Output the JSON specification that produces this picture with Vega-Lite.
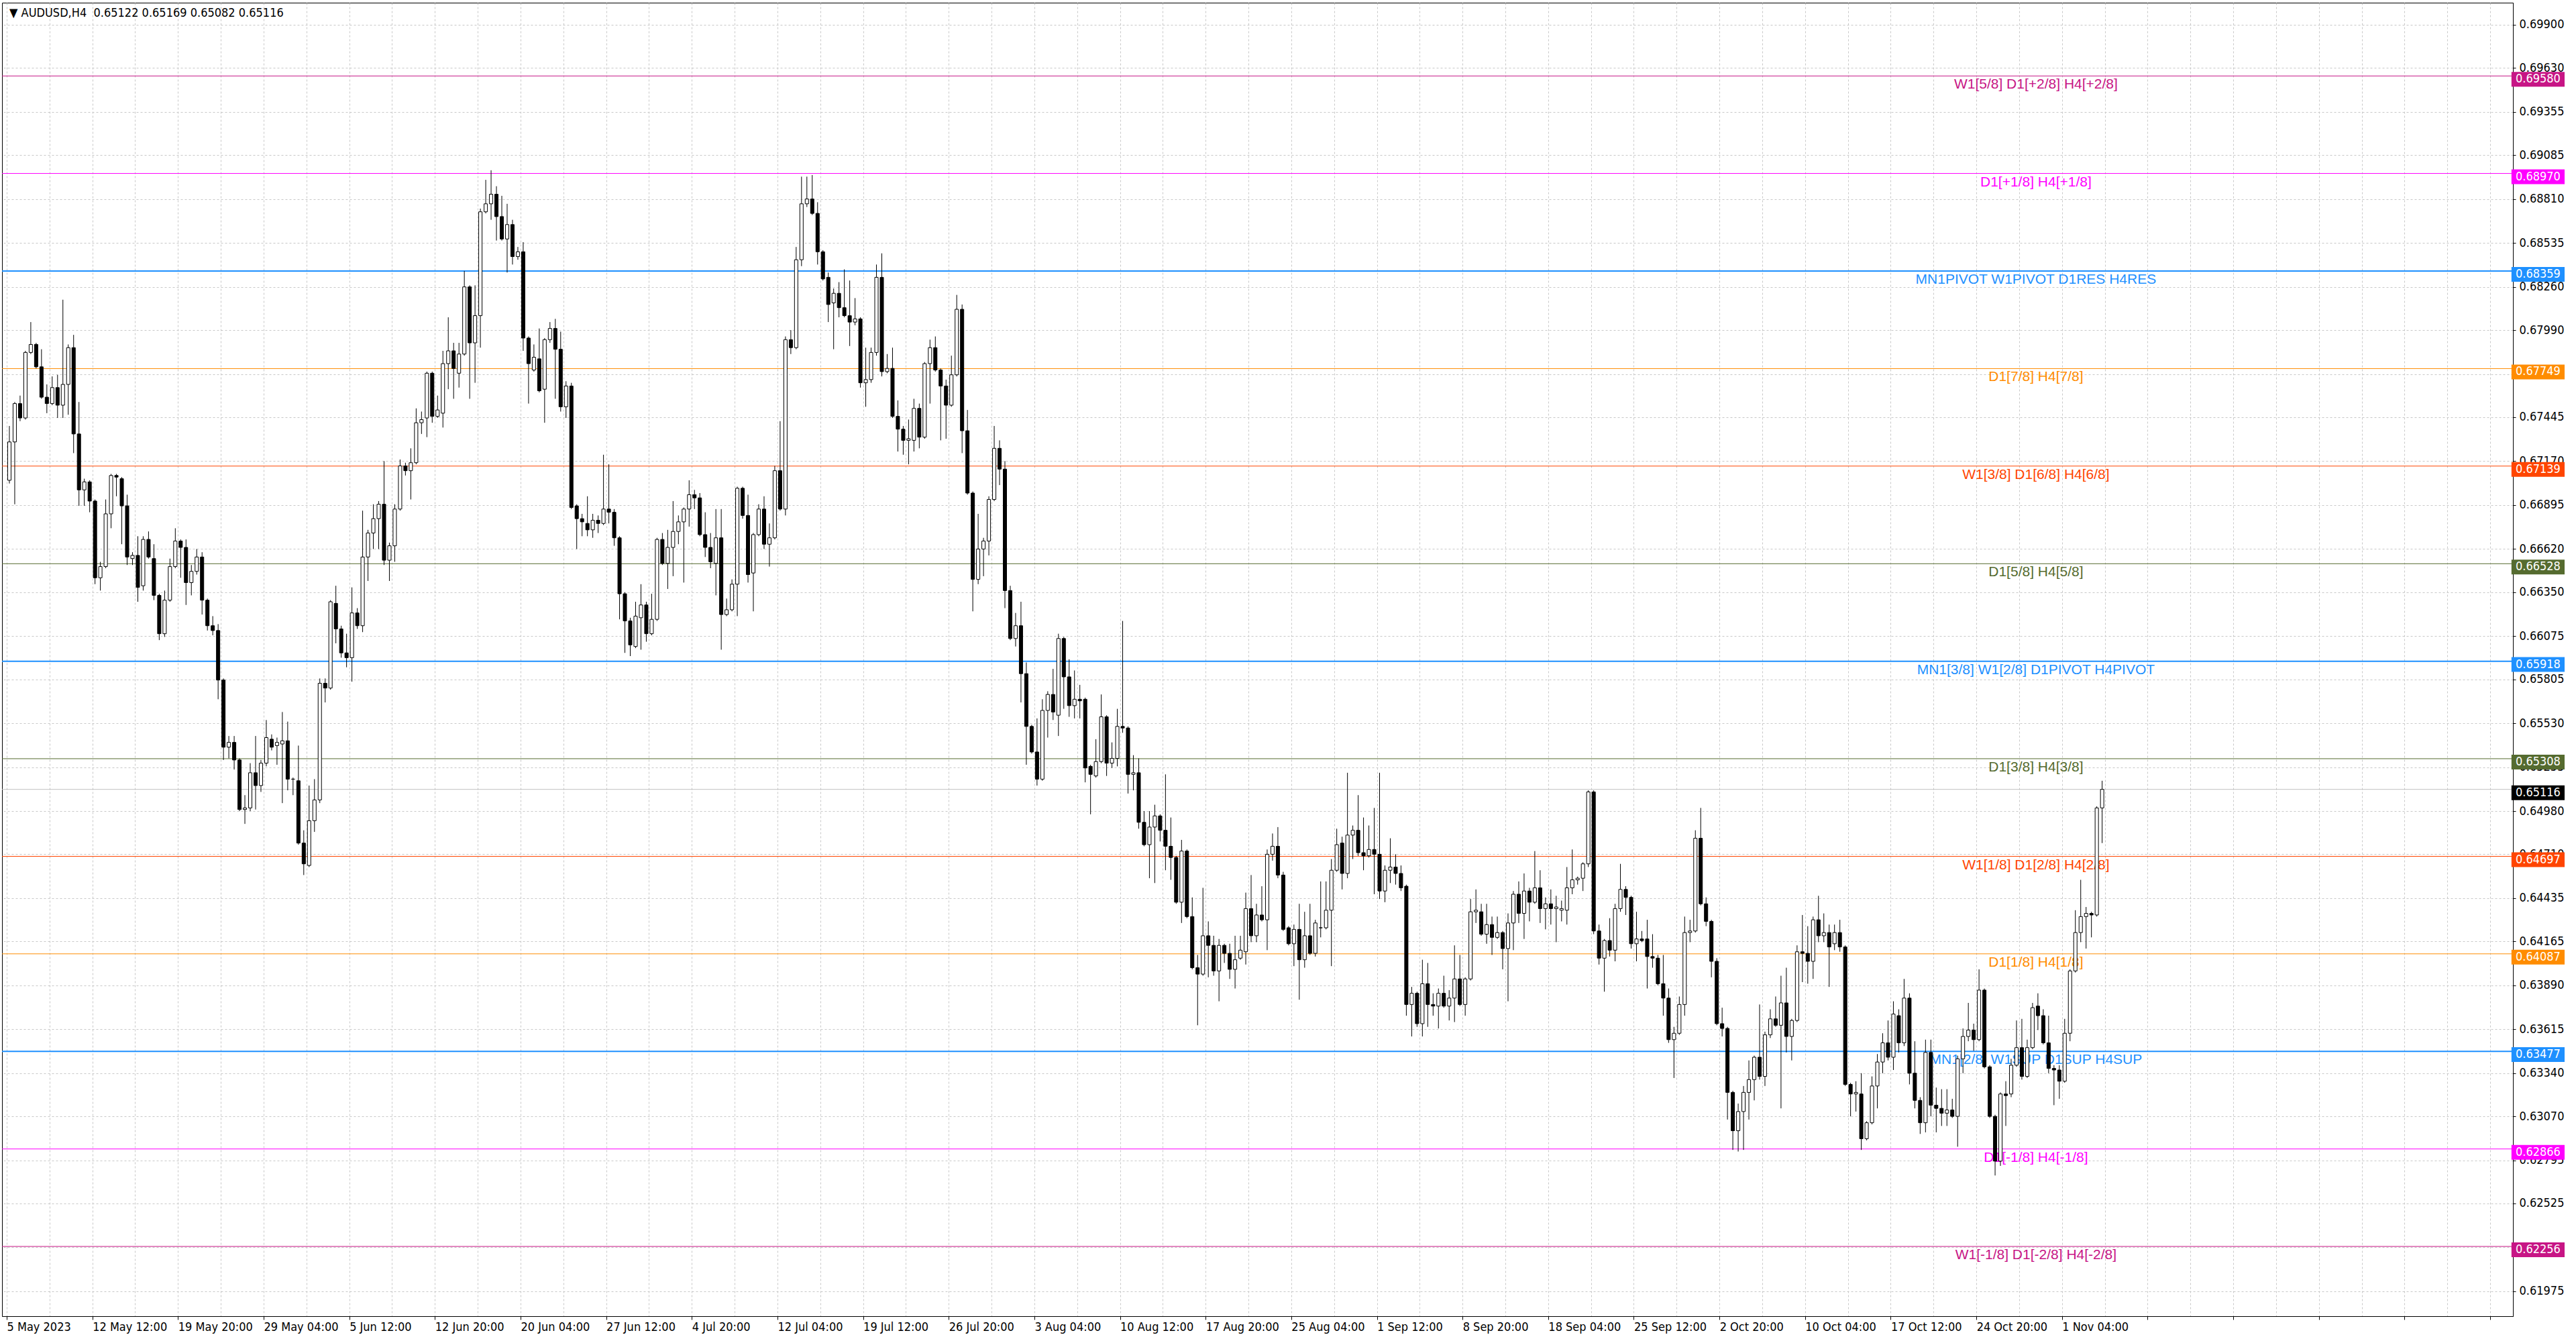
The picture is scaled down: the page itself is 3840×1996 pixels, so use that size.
{
  "$schema": "https://vega.github.io/schema/vega-lite/v6.json",
  "width": 3743,
  "height": 1958,
  "autosize": {"type": "none"},
  "padding": {"left": 3, "top": 4, "right": 94, "bottom": 34},
  "background": "white",
  "datasets": {
    "levels": [
      {"p": 0.6958, "label": "W1[5/8] D1[+2/8] H4[+2/8]"},
      {"p": 0.6897, "label": "D1[+1/8] H4[+1/8]"},
      {"p": 0.68359, "label": "MN1PIVOT W1PIVOT D1RES H4RES"},
      {"p": 0.67749, "label": "D1[7/8] H4[7/8]"},
      {"p": 0.67139, "label": "W1[3/8] D1[6/8] H4[6/8]"},
      {"p": 0.66528, "label": "D1[5/8] H4[5/8]"},
      {"p": 0.65918, "label": "MN1[3/8] W1[2/8] D1PIVOT H4PIVOT"},
      {"p": 0.65308, "label": "D1[3/8] H4[3/8]"},
      {"p": 0.64697, "label": "W1[1/8] D1[2/8] H4[2/8]"},
      {"p": 0.64087, "label": "D1[1/8] H4[1/8]"},
      {"p": 0.63477, "label": "MN1[2/8] W1SUP D1SUP H4SUP"},
      {"p": 0.62866, "label": "D1[-1/8] H4[-1/8]"},
      {"p": 0.62256, "label": "W1[-1/8] D1[-2/8] H4[-2/8]"}
    ],
    "bars": [
      {"i":0,"o":0.6705,"h":0.6739,"l":0.6703,"c":0.6729},
      {"i":1,"o":0.6729,"h":0.6754,"l":0.6690,"c":0.6753},
      {"i":2,"o":0.6753,"h":0.6758,"l":0.6742,"c":0.6744},
      {"i":3,"o":0.6744,"h":0.6786,"l":0.6743,"c":0.6785},
      {"i":4,"o":0.6785,"h":0.6804,"l":0.6784,"c":0.6790},
      {"i":5,"o":0.6790,"h":0.6791,"l":0.6775,"c":0.6776},
      {"i":6,"o":0.6776,"h":0.6787,"l":0.6756,"c":0.6757},
      {"i":7,"o":0.6757,"h":0.6765,"l":0.6747,"c":0.6753},
      {"i":8,"o":0.6753,"h":0.6770,"l":0.6752,"c":0.6763},
      {"i":9,"o":0.6763,"h":0.6771,"l":0.6744,"c":0.6752},
      {"i":10,"o":0.6752,"h":0.6818,"l":0.6744,"c":0.6765},
      {"i":11,"o":0.6765,"h":0.6790,"l":0.6746,"c":0.6788},
      {"i":12,"o":0.6788,"h":0.6796,"l":0.6722,"c":0.6734},
      {"i":13,"o":0.6734,"h":0.6754,"l":0.6689,"c":0.6699},
      {"i":14,"o":0.6699,"h":0.6706,"l":0.6689,"c":0.6704},
      {"i":15,"o":0.6704,"h":0.6705,"l":0.6685,"c":0.6692},
      {"i":16,"o":0.6692,"h":0.6693,"l":0.6640,"c":0.6644},
      {"i":17,"o":0.6644,"h":0.6654,"l":0.6636,"c":0.6651},
      {"i":18,"o":0.6651,"h":0.6693,"l":0.6650,"c":0.6684},
      {"i":19,"o":0.6684,"h":0.6709,"l":0.6675,"c":0.6708},
      {"i":20,"o":0.6708,"h":0.6709,"l":0.6695,"c":0.6707},
      {"i":21,"o":0.6706,"h":0.6707,"l":0.6665,"c":0.6689},
      {"i":22,"o":0.6689,"h":0.6696,"l":0.6652,"c":0.6657},
      {"i":23,"o":0.6656,"h":0.6660,"l":0.6652,"c":0.6658},
      {"i":24,"o":0.6658,"h":0.6670,"l":0.6629,"c":0.6638},
      {"i":25,"o":0.6639,"h":0.6670,"l":0.6636,"c":0.6668},
      {"i":26,"o":0.6668,"h":0.6673,"l":0.6656,"c":0.6657},
      {"i":27,"o":0.6656,"h":0.6665,"l":0.6630,"c":0.6633},
      {"i":28,"o":0.6633,"h":0.6634,"l":0.6605,"c":0.6609},
      {"i":29,"o":0.6609,"h":0.6636,"l":0.6607,"c":0.6630},
      {"i":30,"o":0.6630,"h":0.6656,"l":0.6629,"c":0.6651},
      {"i":31,"o":0.6651,"h":0.6675,"l":0.6650,"c":0.6667},
      {"i":32,"o":0.6667,"h":0.6668,"l":0.6644,"c":0.6663},
      {"i":33,"o":0.6663,"h":0.6668,"l":0.6627,"c":0.6641},
      {"i":34,"o":0.6641,"h":0.6652,"l":0.6633,"c":0.6648},
      {"i":35,"o":0.6648,"h":0.6662,"l":0.6646,"c":0.6657},
      {"i":36,"o":0.6657,"h":0.6660,"l":0.6621,"c":0.6630},
      {"i":37,"o":0.6630,"h":0.6631,"l":0.6611,"c":0.6614},
      {"i":38,"o":0.6614,"h":0.6620,"l":0.6608,"c":0.6611},
      {"i":39,"o":0.6611,"h":0.6615,"l":0.6568,"c":0.6580},
      {"i":40,"o":0.6580,"h":0.6581,"l":0.6530,"c":0.6538},
      {"i":41,"o":0.6538,"h":0.6545,"l":0.6531,"c":0.6541},
      {"i":42,"o":0.6541,"h":0.6545,"l":0.6524,"c":0.6530},
      {"i":43,"o":0.6530,"h":0.6531,"l":0.6498,"c":0.6499},
      {"i":44,"o":0.6499,"h":0.6508,"l":0.6490,"c":0.6500},
      {"i":45,"o":0.6500,"h":0.6528,"l":0.6498,"c":0.6522},
      {"i":46,"o":0.6522,"h":0.6545,"l":0.6499,"c":0.6514},
      {"i":47,"o":0.6514,"h":0.6530,"l":0.6510,"c":0.6528},
      {"i":48,"o":0.6528,"h":0.6555,"l":0.6526,"c":0.6544},
      {"i":49,"o":0.6543,"h":0.6546,"l":0.6536,"c":0.6538},
      {"i":50,"o":0.6539,"h":0.6544,"l":0.6527,"c":0.6541},
      {"i":51,"o":0.6540,"h":0.6560,"l":0.6503,"c":0.6542},
      {"i":52,"o":0.6542,"h":0.6554,"l":0.6511,"c":0.6518},
      {"i":53,"o":0.6518,"h":0.6519,"l":0.6508,"c":0.6518},
      {"i":54,"o":0.6517,"h":0.6539,"l":0.6477,"c":0.6478},
      {"i":55,"o":0.6478,"h":0.6486,"l":0.6458,"c":0.6465},
      {"i":56,"o":0.6464,"h":0.6514,"l":0.6463,"c":0.6492},
      {"i":57,"o":0.6492,"h":0.6518,"l":0.6485,"c":0.6505},
      {"i":58,"o":0.6505,"h":0.6581,"l":0.6503,"c":0.6578},
      {"i":59,"o":0.6578,"h":0.6581,"l":0.6566,"c":0.6575},
      {"i":60,"o":0.6575,"h":0.6630,"l":0.6574,"c":0.6629},
      {"i":61,"o":0.6628,"h":0.6639,"l":0.6603,"c":0.6612},
      {"i":62,"o":0.6612,"h":0.6614,"l":0.6594,"c":0.6597},
      {"i":63,"o":0.6597,"h":0.6609,"l":0.6588,"c":0.6594},
      {"i":64,"o":0.6594,"h":0.6638,"l":0.6579,"c":0.6622},
      {"i":65,"o":0.6622,"h":0.6625,"l":0.6612,"c":0.6614},
      {"i":66,"o":0.6614,"h":0.6686,"l":0.6610,"c":0.6657},
      {"i":67,"o":0.6657,"h":0.6674,"l":0.6642,"c":0.6672},
      {"i":68,"o":0.6672,"h":0.6690,"l":0.6662,"c":0.6681},
      {"i":69,"o":0.6681,"h":0.6692,"l":0.6662,"c":0.6690},
      {"i":70,"o":0.6690,"h":0.6717,"l":0.6652,"c":0.6655},
      {"i":71,"o":0.6655,"h":0.6666,"l":0.6642,"c":0.6664},
      {"i":72,"o":0.6664,"h":0.6690,"l":0.6654,"c":0.6687},
      {"i":73,"o":0.6687,"h":0.6718,"l":0.6686,"c":0.6714},
      {"i":74,"o":0.6714,"h":0.6716,"l":0.6708,"c":0.6711},
      {"i":75,"o":0.6711,"h":0.6725,"l":0.6693,"c":0.6716},
      {"i":76,"o":0.6716,"h":0.6750,"l":0.6715,"c":0.6741},
      {"i":77,"o":0.6741,"h":0.6748,"l":0.6734,"c":0.6743},
      {"i":78,"o":0.6744,"h":0.6773,"l":0.6732,"c":0.6772},
      {"i":79,"o":0.6772,"h":0.6773,"l":0.6741,"c":0.6745},
      {"i":80,"o":0.6745,"h":0.6758,"l":0.6744,"c":0.6749},
      {"i":81,"o":0.6747,"h":0.6786,"l":0.6738,"c":0.6778},
      {"i":82,"o":0.6778,"h":0.6807,"l":0.6762,"c":0.6786},
      {"i":83,"o":0.6786,"h":0.6791,"l":0.6756,"c":0.6775},
      {"i":84,"o":0.6772,"h":0.6791,"l":0.6763,"c":0.6784},
      {"i":85,"o":0.6784,"h":0.6836,"l":0.6783,"c":0.6826},
      {"i":86,"o":0.6826,"h":0.6827,"l":0.6756,"c":0.6791},
      {"i":87,"o":0.6791,"h":0.6827,"l":0.6766,"c":0.6808},
      {"i":88,"o":0.6808,"h":0.6875,"l":0.6788,"c":0.6873},
      {"i":89,"o":0.6873,"h":0.6893,"l":0.6872,"c":0.6878},
      {"i":90,"o":0.6878,"h":0.6899,"l":0.6868,"c":0.6884},
      {"i":91,"o":0.6884,"h":0.6889,"l":0.6855,"c":0.6870},
      {"i":92,"o":0.6870,"h":0.6883,"l":0.6855,"c":0.6856},
      {"i":93,"o":0.6856,"h":0.6878,"l":0.6835,"c":0.6865},
      {"i":94,"o":0.6865,"h":0.6868,"l":0.6840,"c":0.6845},
      {"i":95,"o":0.6845,"h":0.6851,"l":0.6843,"c":0.6848},
      {"i":96,"o":0.6848,"h":0.6854,"l":0.6786,"c":0.6794},
      {"i":97,"o":0.6794,"h":0.6795,"l":0.6753,"c":0.6778},
      {"i":98,"o":0.6774,"h":0.6790,"l":0.6773,"c":0.6782},
      {"i":99,"o":0.6781,"h":0.6800,"l":0.6760,"c":0.6761},
      {"i":100,"o":0.6762,"h":0.6794,"l":0.6741,"c":0.6793},
      {"i":101,"o":0.6793,"h":0.6804,"l":0.6791,"c":0.6800},
      {"i":102,"o":0.6800,"h":0.6806,"l":0.6756,"c":0.6787},
      {"i":103,"o":0.6787,"h":0.6798,"l":0.6748,"c":0.6751},
      {"i":104,"o":0.6751,"h":0.6767,"l":0.6744,"c":0.6764},
      {"i":105,"o":0.6764,"h":0.6766,"l":0.6687,"c":0.6688},
      {"i":106,"o":0.6689,"h":0.6690,"l":0.6662,"c":0.6681},
      {"i":107,"o":0.6681,"h":0.6684,"l":0.6670,"c":0.6679},
      {"i":108,"o":0.6678,"h":0.6695,"l":0.6670,"c":0.6674},
      {"i":109,"o":0.6674,"h":0.6684,"l":0.6669,"c":0.6680},
      {"i":110,"o":0.6680,"h":0.6683,"l":0.6672,"c":0.6678},
      {"i":111,"o":0.6678,"h":0.6721,"l":0.6677,"c":0.6687},
      {"i":112,"o":0.6687,"h":0.6715,"l":0.6678,"c":0.6685},
      {"i":113,"o":0.6685,"h":0.6687,"l":0.6664,"c":0.6669},
      {"i":114,"o":0.6669,"h":0.6670,"l":0.6618,"c":0.6634},
      {"i":115,"o":0.6634,"h":0.6635,"l":0.6597,"c":0.6617},
      {"i":116,"o":0.6617,"h":0.6619,"l":0.6595,"c":0.6602},
      {"i":117,"o":0.6601,"h":0.6629,"l":0.6600,"c":0.6620},
      {"i":118,"o":0.6619,"h":0.6640,"l":0.6599,"c":0.6627},
      {"i":119,"o":0.6627,"h":0.6629,"l":0.6604,"c":0.6609},
      {"i":120,"o":0.6609,"h":0.6634,"l":0.6608,"c":0.6618},
      {"i":121,"o":0.6618,"h":0.6669,"l":0.6617,"c":0.6668},
      {"i":122,"o":0.6668,"h":0.6672,"l":0.6652,"c":0.6653},
      {"i":123,"o":0.6653,"h":0.6674,"l":0.6637,"c":0.6663},
      {"i":124,"o":0.6663,"h":0.6692,"l":0.6645,"c":0.6673},
      {"i":125,"o":0.6673,"h":0.6683,"l":0.6665,"c":0.6679},
      {"i":126,"o":0.6679,"h":0.6688,"l":0.6641,"c":0.6687},
      {"i":127,"o":0.6687,"h":0.6705,"l":0.6676,"c":0.6696},
      {"i":128,"o":0.6696,"h":0.6699,"l":0.6687,"c":0.6694},
      {"i":129,"o":0.6694,"h":0.6697,"l":0.6670,"c":0.6671},
      {"i":130,"o":0.6671,"h":0.6685,"l":0.6657,"c":0.6663},
      {"i":131,"o":0.6663,"h":0.6672,"l":0.6650,"c":0.6654},
      {"i":132,"o":0.6653,"h":0.6687,"l":0.6633,"c":0.6669},
      {"i":133,"o":0.6669,"h":0.6687,"l":0.6599,"c":0.6621},
      {"i":134,"o":0.6621,"h":0.6631,"l":0.6620,"c":0.6624},
      {"i":135,"o":0.6624,"h":0.6643,"l":0.6623,"c":0.6640},
      {"i":136,"o":0.6640,"h":0.6701,"l":0.6620,"c":0.6700},
      {"i":137,"o":0.6700,"h":0.6701,"l":0.6681,"c":0.6683},
      {"i":138,"o":0.6683,"h":0.6696,"l":0.6641,"c":0.6646},
      {"i":139,"o":0.6647,"h":0.6672,"l":0.6623,"c":0.6671},
      {"i":140,"o":0.6671,"h":0.6690,"l":0.6670,"c":0.6687},
      {"i":141,"o":0.6687,"h":0.6695,"l":0.6662,"c":0.6665},
      {"i":142,"o":0.6665,"h":0.6678,"l":0.6651,"c":0.6669},
      {"i":143,"o":0.6669,"h":0.6714,"l":0.6668,"c":0.6711},
      {"i":144,"o":0.6711,"h":0.6742,"l":0.6686,"c":0.6687},
      {"i":145,"o":0.6687,"h":0.6795,"l":0.6683,"c":0.6793},
      {"i":146,"o":0.6793,"h":0.6799,"l":0.6784,"c":0.6788},
      {"i":147,"o":0.6788,"h":0.6851,"l":0.6787,"c":0.6843},
      {"i":148,"o":0.6843,"h":0.6895,"l":0.6839,"c":0.6878},
      {"i":149,"o":0.6878,"h":0.6895,"l":0.6876,"c":0.6881},
      {"i":150,"o":0.6881,"h":0.6896,"l":0.6871,"c":0.6872},
      {"i":151,"o":0.6872,"h":0.6879,"l":0.6840,"c":0.6848},
      {"i":152,"o":0.6848,"h":0.6849,"l":0.6830,"c":0.6831},
      {"i":153,"o":0.6832,"h":0.6835,"l":0.6804,"c":0.6815},
      {"i":154,"o":0.6816,"h":0.6825,"l":0.6787,"c":0.6822},
      {"i":155,"o":0.6822,"h":0.6829,"l":0.6807,"c":0.6813},
      {"i":156,"o":0.6813,"h":0.6837,"l":0.6807,"c":0.6808},
      {"i":157,"o":0.6808,"h":0.6830,"l":0.6789,"c":0.6804},
      {"i":158,"o":0.6804,"h":0.6819,"l":0.6802,"c":0.6806},
      {"i":159,"o":0.6806,"h":0.6807,"l":0.6763,"c":0.6766},
      {"i":160,"o":0.6766,"h":0.6788,"l":0.6751,"c":0.6768},
      {"i":161,"o":0.6768,"h":0.6788,"l":0.6766,"c":0.6785},
      {"i":162,"o":0.6785,"h":0.6840,"l":0.6783,"c":0.6832},
      {"i":163,"o":0.6832,"h":0.6847,"l":0.6770,"c":0.6773},
      {"i":164,"o":0.6773,"h":0.6784,"l":0.6772,"c":0.6775},
      {"i":165,"o":0.6775,"h":0.6788,"l":0.6744,"c":0.6745},
      {"i":166,"o":0.6745,"h":0.6755,"l":0.6723,"c":0.6737},
      {"i":167,"o":0.6737,"h":0.6739,"l":0.6721,"c":0.6730},
      {"i":168,"o":0.6730,"h":0.6743,"l":0.6715,"c":0.6731},
      {"i":169,"o":0.6730,"h":0.6756,"l":0.6723,"c":0.6750},
      {"i":170,"o":0.6750,"h":0.6753,"l":0.6725,"c":0.6732},
      {"i":171,"o":0.6732,"h":0.6779,"l":0.6731,"c":0.6778},
      {"i":172,"o":0.6778,"h":0.6793,"l":0.6753,"c":0.6788},
      {"i":173,"o":0.6788,"h":0.6795,"l":0.6773,"c":0.6774},
      {"i":174,"o":0.6774,"h":0.6775,"l":0.6730,"c":0.6764},
      {"i":175,"o":0.6764,"h":0.6768,"l":0.6731,"c":0.6752},
      {"i":176,"o":0.6752,"h":0.6783,"l":0.6751,"c":0.6771},
      {"i":177,"o":0.6771,"h":0.6821,"l":0.6770,"c":0.6812},
      {"i":178,"o":0.6812,"h":0.6815,"l":0.6722,"c":0.6736},
      {"i":179,"o":0.6736,"h":0.6749,"l":0.6696,"c":0.6697},
      {"i":180,"o":0.6697,"h":0.6698,"l":0.6623,"c":0.6643},
      {"i":181,"o":0.6643,"h":0.6684,"l":0.6640,"c":0.6662},
      {"i":182,"o":0.6662,"h":0.6669,"l":0.6645,"c":0.6667},
      {"i":183,"o":0.6667,"h":0.6695,"l":0.6658,"c":0.6693},
      {"i":184,"o":0.6693,"h":0.6739,"l":0.6692,"c":0.6725},
      {"i":185,"o":0.6725,"h":0.6730,"l":0.6702,"c":0.6712},
      {"i":186,"o":0.6712,"h":0.6717,"l":0.6625,"c":0.6636},
      {"i":187,"o":0.6636,"h":0.6639,"l":0.6605,"c":0.6606},
      {"i":188,"o":0.6606,"h":0.6622,"l":0.6601,"c":0.6614},
      {"i":189,"o":0.6614,"h":0.6629,"l":0.6566,"c":0.6584},
      {"i":190,"o":0.6584,"h":0.6591,"l":0.6527,"c":0.6551},
      {"i":191,"o":0.6551,"h":0.6552,"l":0.6534,"c":0.6535},
      {"i":192,"o":0.6535,"h":0.6556,"l":0.6514,"c":0.6518},
      {"i":193,"o":0.6518,"h":0.6568,"l":0.6517,"c":0.6561},
      {"i":194,"o":0.6561,"h":0.6573,"l":0.6544,"c":0.6571},
      {"i":195,"o":0.6571,"h":0.6587,"l":0.6555,"c":0.6560},
      {"i":196,"o":0.6558,"h":0.6609,"l":0.6545,"c":0.6606},
      {"i":197,"o":0.6606,"h":0.6607,"l":0.6562,"c":0.6582},
      {"i":198,"o":0.6582,"h":0.6593,"l":0.6557,"c":0.6564},
      {"i":199,"o":0.6564,"h":0.6586,"l":0.6556,"c":0.6568},
      {"i":200,"o":0.6568,"h":0.6577,"l":0.6556,"c":0.6567},
      {"i":201,"o":0.6568,"h":0.6569,"l":0.6516,"c":0.6525},
      {"i":202,"o":0.6526,"h":0.6527,"l":0.6496,"c":0.6521},
      {"i":203,"o":0.6520,"h":0.6543,"l":0.6519,"c":0.6529},
      {"i":204,"o":0.6529,"h":0.6571,"l":0.6528,"c":0.6557},
      {"i":205,"o":0.6557,"h":0.6558,"l":0.6520,"c":0.6528},
      {"i":206,"o":0.6528,"h":0.6541,"l":0.6525,"c":0.6531},
      {"i":207,"o":0.6531,"h":0.6562,"l":0.6526,"c":0.6551},
      {"i":208,"o":0.6551,"h":0.6617,"l":0.6547,"c":0.6550},
      {"i":209,"o":0.6550,"h":0.6551,"l":0.6509,"c":0.6521},
      {"i":210,"o":0.6521,"h":0.6533,"l":0.6511,"c":0.6522},
      {"i":211,"o":0.6522,"h":0.6531,"l":0.6487,"c":0.6491},
      {"i":212,"o":0.6491,"h":0.6498,"l":0.6476,"c":0.6477},
      {"i":213,"o":0.6477,"h":0.6498,"l":0.6456,"c":0.6488},
      {"i":214,"o":0.6488,"h":0.6502,"l":0.6453,"c":0.6495},
      {"i":215,"o":0.6495,"h":0.6496,"l":0.6479,"c":0.6486},
      {"i":216,"o":0.6486,"h":0.6521,"l":0.6461,"c":0.6476},
      {"i":217,"o":0.6476,"h":0.6494,"l":0.6455,"c":0.6469},
      {"i":218,"o":0.6469,"h":0.6470,"l":0.6440,"c":0.6441},
      {"i":219,"o":0.6441,"h":0.6480,"l":0.6428,"c":0.6473},
      {"i":220,"o":0.6473,"h":0.6474,"l":0.6431,"c":0.6432},
      {"i":221,"o":0.6432,"h":0.6444,"l":0.6399,"c":0.6400},
      {"i":222,"o":0.6400,"h":0.6408,"l":0.6364,"c":0.6396},
      {"i":223,"o":0.6396,"h":0.6450,"l":0.6395,"c":0.6420},
      {"i":224,"o":0.6420,"h":0.6429,"l":0.6394,"c":0.6414},
      {"i":225,"o":0.6414,"h":0.6420,"l":0.6395,"c":0.6398},
      {"i":226,"o":0.6398,"h":0.6418,"l":0.6379,"c":0.6414},
      {"i":227,"o":0.6414,"h":0.6415,"l":0.6403,"c":0.6409},
      {"i":228,"o":0.6409,"h":0.6415,"l":0.6393,"c":0.6399},
      {"i":229,"o":0.6399,"h":0.6420,"l":0.6387,"c":0.6405},
      {"i":230,"o":0.6406,"h":0.6420,"l":0.6405,"c":0.6411},
      {"i":231,"o":0.6410,"h":0.6447,"l":0.6402,"c":0.6437},
      {"i":232,"o":0.6437,"h":0.6458,"l":0.6416,"c":0.6420},
      {"i":233,"o":0.6420,"h":0.6440,"l":0.6416,"c":0.6433},
      {"i":234,"o":0.6433,"h":0.6451,"l":0.6429,"c":0.6430},
      {"i":235,"o":0.6430,"h":0.6474,"l":0.6411,"c":0.6471},
      {"i":236,"o":0.6471,"h":0.6484,"l":0.6467,"c":0.6476},
      {"i":237,"o":0.6476,"h":0.6488,"l":0.6456,"c":0.6458},
      {"i":238,"o":0.6458,"h":0.6460,"l":0.6423,"c":0.6424},
      {"i":239,"o":0.6425,"h":0.6426,"l":0.6414,"c":0.6415},
      {"i":240,"o":0.6415,"h":0.6427,"l":0.6401,"c":0.6424},
      {"i":241,"o":0.6424,"h":0.6440,"l":0.6380,"c":0.6405},
      {"i":242,"o":0.6405,"h":0.6435,"l":0.6400,"c":0.6420},
      {"i":243,"o":0.6420,"h":0.6440,"l":0.6408,"c":0.6409},
      {"i":244,"o":0.6409,"h":0.6430,"l":0.6407,"c":0.6428},
      {"i":245,"o":0.6425,"h":0.6454,"l":0.6419,"c":0.6425},
      {"i":246,"o":0.6425,"h":0.6454,"l":0.6424,"c":0.6436},
      {"i":247,"o":0.6436,"h":0.6468,"l":0.6401,"c":0.6461},
      {"i":248,"o":0.6461,"h":0.6487,"l":0.6460,"c":0.6477},
      {"i":249,"o":0.6478,"h":0.6482,"l":0.6449,"c":0.6459},
      {"i":250,"o":0.6459,"h":0.6522,"l":0.6456,"c":0.6483},
      {"i":251,"o":0.6483,"h":0.6489,"l":0.6468,"c":0.6486},
      {"i":252,"o":0.6486,"h":0.6508,"l":0.6470,"c":0.6472},
      {"i":253,"o":0.6472,"h":0.6494,"l":0.6461,"c":0.6470},
      {"i":254,"o":0.6470,"h":0.6489,"l":0.6469,"c":0.6474},
      {"i":255,"o":0.6474,"h":0.6500,"l":0.6446,"c":0.6471},
      {"i":256,"o":0.6471,"h":0.6522,"l":0.6443,"c":0.6448},
      {"i":257,"o":0.6448,"h":0.6464,"l":0.6441,"c":0.6461},
      {"i":258,"o":0.6461,"h":0.6481,"l":0.6453,"c":0.6463},
      {"i":259,"o":0.6463,"h":0.6471,"l":0.6452,"c":0.6459},
      {"i":260,"o":0.6459,"h":0.6464,"l":0.6448,"c":0.6450},
      {"i":261,"o":0.6451,"h":0.6452,"l":0.6370,"c":0.6377},
      {"i":262,"o":0.6377,"h":0.6388,"l":0.6357,"c":0.6384},
      {"i":263,"o":0.6384,"h":0.6385,"l":0.6363,"c":0.6365},
      {"i":264,"o":0.6365,"h":0.6405,"l":0.6357,"c":0.6390},
      {"i":265,"o":0.6390,"h":0.6403,"l":0.6363,"c":0.6377},
      {"i":266,"o":0.6377,"h":0.6384,"l":0.6370,"c":0.6376},
      {"i":267,"o":0.6376,"h":0.6387,"l":0.6362,"c":0.6384},
      {"i":268,"o":0.6384,"h":0.6395,"l":0.6375,"c":0.6376},
      {"i":269,"o":0.6376,"h":0.6386,"l":0.6367,"c":0.6381},
      {"i":270,"o":0.6381,"h":0.6414,"l":0.6366,"c":0.6393},
      {"i":271,"o":0.6393,"h":0.6408,"l":0.6376,"c":0.6377},
      {"i":272,"o":0.6377,"h":0.6394,"l":0.6370,"c":0.6393},
      {"i":273,"o":0.6393,"h":0.6443,"l":0.6392,"c":0.6435},
      {"i":274,"o":0.6435,"h":0.6449,"l":0.6428,"c":0.6436},
      {"i":275,"o":0.6435,"h":0.6440,"l":0.6420,"c":0.6421},
      {"i":276,"o":0.6421,"h":0.6440,"l":0.6415,"c":0.6427},
      {"i":277,"o":0.6427,"h":0.6432,"l":0.6408,"c":0.6419},
      {"i":278,"o":0.6419,"h":0.6432,"l":0.6418,"c":0.6422},
      {"i":279,"o":0.6422,"h":0.6423,"l":0.6399,"c":0.6412},
      {"i":280,"o":0.6412,"h":0.6434,"l":0.6379,"c":0.6428},
      {"i":281,"o":0.6428,"h":0.6448,"l":0.6411,"c":0.6446},
      {"i":282,"o":0.6446,"h":0.6454,"l":0.6428,"c":0.6434},
      {"i":283,"o":0.6434,"h":0.6459,"l":0.6418,"c":0.6448},
      {"i":284,"o":0.6448,"h":0.6450,"l":0.6429,"c":0.6441},
      {"i":285,"o":0.6441,"h":0.6473,"l":0.6440,"c":0.6450},
      {"i":286,"o":0.6450,"h":0.6461,"l":0.6428,"c":0.6437},
      {"i":287,"o":0.6437,"h":0.6444,"l":0.6424,"c":0.6440},
      {"i":288,"o":0.6440,"h":0.6449,"l":0.6427,"c":0.6437},
      {"i":289,"o":0.6437,"h":0.6445,"l":0.6416,"c":0.6438},
      {"i":290,"o":0.6436,"h":0.6442,"l":0.6429,"c":0.6437},
      {"i":291,"o":0.6436,"h":0.6463,"l":0.6427,"c":0.6450},
      {"i":292,"o":0.6450,"h":0.6474,"l":0.6446,"c":0.6455},
      {"i":293,"o":0.6455,"h":0.6457,"l":0.6452,"c":0.6456},
      {"i":294,"o":0.6456,"h":0.6466,"l":0.6448,"c":0.6465},
      {"i":295,"o":0.6465,"h":0.6511,"l":0.6463,"c":0.6510},
      {"i":296,"o":0.6510,"h":0.6511,"l":0.6421,"c":0.6423},
      {"i":297,"o":0.6423,"h":0.6427,"l":0.6402,"c":0.6406},
      {"i":298,"o":0.6406,"h":0.6418,"l":0.6385,"c":0.6417},
      {"i":299,"o":0.6417,"h":0.6431,"l":0.6407,"c":0.6411},
      {"i":300,"o":0.6411,"h":0.6440,"l":0.6404,"c":0.6437},
      {"i":301,"o":0.6437,"h":0.6465,"l":0.6435,"c":0.6449},
      {"i":302,"o":0.6449,"h":0.6451,"l":0.6433,"c":0.6444},
      {"i":303,"o":0.6444,"h":0.6445,"l":0.6412,"c":0.6415},
      {"i":304,"o":0.6415,"h":0.6435,"l":0.6404,"c":0.6418},
      {"i":305,"o":0.6418,"h":0.6423,"l":0.6416,"c":0.6417},
      {"i":306,"o":0.6418,"h":0.6430,"l":0.6387,"c":0.6407},
      {"i":307,"o":0.6407,"h":0.6421,"l":0.6400,"c":0.6406},
      {"i":308,"o":0.6406,"h":0.6408,"l":0.6389,"c":0.6390},
      {"i":309,"o":0.6390,"h":0.6408,"l":0.6370,"c":0.6381},
      {"i":310,"o":0.6381,"h":0.6387,"l":0.6353,"c":0.6355},
      {"i":311,"o":0.6355,"h":0.6363,"l":0.6331,"c":0.6359},
      {"i":312,"o":0.6359,"h":0.6382,"l":0.6358,"c":0.6377},
      {"i":313,"o":0.6377,"h":0.6432,"l":0.6370,"c":0.6422},
      {"i":314,"o":0.6422,"h":0.6430,"l":0.6416,"c":0.6423},
      {"i":315,"o":0.6423,"h":0.6486,"l":0.6422,"c":0.6481},
      {"i":316,"o":0.6481,"h":0.6500,"l":0.6439,"c":0.6440},
      {"i":317,"o":0.6440,"h":0.6444,"l":0.6426,"c":0.6429},
      {"i":318,"o":0.6429,"h":0.6430,"l":0.6394,"c":0.6404},
      {"i":319,"o":0.6404,"h":0.6406,"l":0.6364,"c":0.6365},
      {"i":320,"o":0.6365,"h":0.6375,"l":0.6357,"c":0.6362},
      {"i":321,"o":0.6362,"h":0.6363,"l":0.6305,"c":0.6322},
      {"i":322,"o":0.6322,"h":0.6323,"l":0.6286,"c":0.6298},
      {"i":323,"o":0.6298,"h":0.6315,"l":0.6285,"c":0.6310},
      {"i":324,"o":0.6310,"h":0.6326,"l":0.6286,"c":0.6322},
      {"i":325,"o":0.6322,"h":0.6342,"l":0.6305,"c":0.6330},
      {"i":326,"o":0.6330,"h":0.6345,"l":0.6317,"c":0.6344},
      {"i":327,"o":0.6344,"h":0.6377,"l":0.6330,"c":0.6332},
      {"i":328,"o":0.6332,"h":0.6360,"l":0.6326,"c":0.6358},
      {"i":329,"o":0.6358,"h":0.6374,"l":0.6356,"c":0.6368},
      {"i":330,"o":0.6368,"h":0.6382,"l":0.6363,"c":0.6364},
      {"i":331,"o":0.6364,"h":0.6395,"l":0.6312,"c":0.6378},
      {"i":332,"o":0.6378,"h":0.6400,"l":0.6347,"c":0.6357},
      {"i":333,"o":0.6357,"h":0.6368,"l":0.6342,"c":0.6367},
      {"i":334,"o":0.6367,"h":0.6414,"l":0.6366,"c":0.6410},
      {"i":335,"o":0.6410,"h":0.6433,"l":0.6391,"c":0.6409},
      {"i":336,"o":0.6409,"h":0.6426,"l":0.6390,"c":0.6404},
      {"i":337,"o":0.6404,"h":0.6432,"l":0.6393,"c":0.6430},
      {"i":338,"o":0.6430,"h":0.6445,"l":0.6416,"c":0.6420},
      {"i":339,"o":0.6420,"h":0.6434,"l":0.6416,"c":0.6422},
      {"i":340,"o":0.6422,"h":0.6427,"l":0.6388,"c":0.6413},
      {"i":341,"o":0.6415,"h":0.6427,"l":0.6411,"c":0.6422},
      {"i":342,"o":0.6422,"h":0.6430,"l":0.6410,"c":0.6413},
      {"i":343,"o":0.6413,"h":0.6414,"l":0.6326,"c":0.6327},
      {"i":344,"o":0.6327,"h":0.6328,"l":0.6307,"c":0.6321},
      {"i":345,"o":0.6321,"h":0.6329,"l":0.6310,"c":0.6322},
      {"i":346,"o":0.6321,"h":0.6334,"l":0.6286,"c":0.6293},
      {"i":347,"o":0.6293,"h":0.6304,"l":0.6292,"c":0.6303},
      {"i":348,"o":0.6303,"h":0.6332,"l":0.6302,"c":0.6326},
      {"i":349,"o":0.6326,"h":0.6346,"l":0.6312,"c":0.6341},
      {"i":350,"o":0.6341,"h":0.6359,"l":0.6334,"c":0.6353},
      {"i":351,"o":0.6353,"h":0.6367,"l":0.6342,"c":0.6344},
      {"i":352,"o":0.6344,"h":0.6379,"l":0.6336,"c":0.6371},
      {"i":353,"o":0.6370,"h":0.6374,"l":0.6347,"c":0.6353},
      {"i":354,"o":0.6353,"h":0.6393,"l":0.6351,"c":0.6381},
      {"i":355,"o":0.6381,"h":0.6384,"l":0.6327,"c":0.6334},
      {"i":356,"o":0.6334,"h":0.6354,"l":0.6312,"c":0.6317},
      {"i":357,"o":0.6317,"h":0.6319,"l":0.6296,"c":0.6303},
      {"i":358,"o":0.6303,"h":0.6355,"l":0.6297,"c":0.6347},
      {"i":359,"o":0.6347,"h":0.6355,"l":0.6307,"c":0.6314},
      {"i":360,"o":0.6314,"h":0.6325,"l":0.6297,"c":0.6312},
      {"i":361,"o":0.6312,"h":0.6324,"l":0.6301,"c":0.6309},
      {"i":362,"o":0.6309,"h":0.6324,"l":0.6301,"c":0.6311},
      {"i":363,"o":0.6311,"h":0.6318,"l":0.6306,"c":0.6307},
      {"i":364,"o":0.6307,"h":0.6345,"l":0.6288,"c":0.6343},
      {"i":365,"o":0.6343,"h":0.6362,"l":0.6334,"c":0.6357},
      {"i":366,"o":0.6357,"h":0.6378,"l":0.6354,"c":0.6361},
      {"i":367,"o":0.6361,"h":0.6365,"l":0.6348,"c":0.6355},
      {"i":368,"o":0.6355,"h":0.6399,"l":0.6354,"c":0.6386},
      {"i":369,"o":0.6386,"h":0.6387,"l":0.6337,"c":0.6338},
      {"i":370,"o":0.6338,"h":0.6339,"l":0.6306,"c":0.6307},
      {"i":371,"o":0.6307,"h":0.6308,"l":0.6270,"c":0.6279},
      {"i":372,"o":0.6279,"h":0.6322,"l":0.6276,"c":0.6321},
      {"i":373,"o":0.6321,"h":0.6329,"l":0.6301,"c":0.6320},
      {"i":374,"o":0.6321,"h":0.6343,"l":0.6319,"c":0.6339},
      {"i":375,"o":0.6339,"h":0.6367,"l":0.6338,"c":0.6350},
      {"i":376,"o":0.6350,"h":0.6368,"l":0.6330,"c":0.6332},
      {"i":377,"o":0.6332,"h":0.6355,"l":0.6331,"c":0.6350},
      {"i":378,"o":0.6350,"h":0.6378,"l":0.6349,"c":0.6375},
      {"i":379,"o":0.6376,"h":0.6384,"l":0.6361,"c":0.6370},
      {"i":380,"o":0.6370,"h":0.6374,"l":0.6352,"c":0.6353},
      {"i":381,"o":0.6353,"h":0.6370,"l":0.6334,"c":0.6337},
      {"i":382,"o":0.6337,"h":0.6339,"l":0.6314,"c":0.6336},
      {"i":383,"o":0.6336,"h":0.6339,"l":0.6318,"c":0.6329},
      {"i":384,"o":0.6329,"h":0.6368,"l":0.6328,"c":0.6359},
      {"i":385,"o":0.6359,"h":0.6399,"l":0.6354,"c":0.6398},
      {"i":386,"o":0.6398,"h":0.6436,"l":0.6397,"c":0.6422},
      {"i":387,"o":0.6422,"h":0.6455,"l":0.6416,"c":0.6432},
      {"i":388,"o":0.6432,"h":0.6438,"l":0.6412,"c":0.6434},
      {"i":389,"o":0.6434,"h":0.6435,"l":0.6419,"c":0.6433},
      {"i":390,"o":0.6433,"h":0.6501,"l":0.6432,"c":0.6500},
      {"i":391,"o":0.6500,"h":0.6517,"l":0.6478,"c":0.65116}
    ]
  },
  "config": {
    "view": {"stroke": "black", "strokeWidth": 1},
    "axis": {
      "domainColor": "black",
      "domainWidth": 1,
      "tickColor": "black",
      "tickWidth": 1,
      "labelColor": "black",
      "labelFont": "DejaVu Sans Condensed, Liberation Sans Narrow, DejaVu Sans",
      "labelFontSize": 18,
      "grid": true,
      "gridColor": "#c8c8c8",
      "gridDash": [3, 3],
      "gridWidth": 1
    }
  },
  "layer": [
    {
      "data": {"name": "bars"},
      "mark": {"type": "rule", "color": "black", "strokeWidth": 1, "opacity": 0},
      "encoding": {
        "x": {
          "field": "i",
          "type": "quantitative",
          "title": null,
          "scale": {"domain": [-0.75, 467.125], "nice": false, "zero": false},
          "axis": {
            "values": [-0.5, 7.5, 15.5, 23.5, 31.5, 39.5, 47.5, 55.5, 63.5, 71.5, 79.5, 87.5, 95.5, 103.5, 111.5, 119.5, 127.5, 135.5, 143.5, 151.5, 159.5, 167.5, 175.5, 183.5, 191.5, 199.5, 207.5, 215.5, 223.5, 231.5, 239.5, 247.5, 255.5, 263.5, 271.5, 279.5, 287.5, 295.5, 303.5, 311.5, 319.5, 327.5, 335.5, 343.5, 351.5, 359.5, 367.5, 375.5, 383.5, 391.5, 399.5, 407.5, 415.5, 423.5, 431.5, 439.5, 447.5, 455.5, 463.5],
            "labelExpr": "(round(datum.value + 0.5) % 16 == 0) ? (['5 May 2023', '12 May 12:00', '19 May 20:00', '29 May 04:00', '5 Jun 12:00', '12 Jun 20:00', '20 Jun 04:00', '27 Jun 12:00', '4 Jul 20:00', '12 Jul 04:00', '19 Jul 12:00', '26 Jul 20:00', '3 Aug 04:00', '10 Aug 12:00', '17 Aug 20:00', '25 Aug 04:00', '1 Sep 12:00', '8 Sep 20:00', '18 Sep 04:00', '25 Sep 12:00', '2 Oct 20:00', '10 Oct 04:00', '17 Oct 12:00', '24 Oct 20:00', '1 Nov 04:00'][round((datum.value + 0.5) / 16)] || '') : ''",
            "labelAlign": "left",
            "labelBaseline": "top",
            "labelPadding": 2,
            "tickSize": 5,
            "labelFlush": false,
            "labelOverlap": false,
            "labelBound": false,
            "tickOpacity": {"condition": {"test": "round(datum.value + 0.5) % 16 != 0", "value": 0}, "value": 1},
            "title": null
          }
        },
        "y": {
          "field": "l",
          "type": "quantitative",
          "title": null,
          "scale": {"domain": [0.618196, 0.700385], "nice": false, "zero": false},
          "axis": {
            "orient": "right",
            "values": [0.699, 0.6963, 0.69355, 0.69085, 0.6881, 0.68535, 0.6826, 0.6799, 0.67715, 0.67445, 0.6717, 0.66895, 0.6662, 0.6635, 0.66075, 0.65805, 0.6553, 0.65255, 0.6498, 0.6471, 0.64435, 0.64165, 0.6389, 0.63615, 0.6334, 0.6307, 0.62795, 0.62525, 0.6225, 0.61975],
            "format": ".5f",
            "tickSize": 4,
            "labelPadding": 5,
            "labelFlush": false,
            "labelOverlap": false,
            "title": null
          }
        },
        "y2": {"field": "h"}
      }
    },
    {
      "data": {"name": "levels"},
      "mark": {"type": "rule"},
      "encoding": {
        "y": {"field": "p", "type": "quantitative", "title": null},
        "color": {
          "field": "label",
          "type": "nominal",
          "legend": null,
          "scale": {
            "domain": ["W1[5/8] D1[+2/8] H4[+2/8]", "D1[+1/8] H4[+1/8]", "MN1PIVOT W1PIVOT D1RES H4RES", "D1[7/8] H4[7/8]", "W1[3/8] D1[6/8] H4[6/8]", "D1[5/8] H4[5/8]", "MN1[3/8] W1[2/8] D1PIVOT H4PIVOT", "D1[3/8] H4[3/8]", "W1[1/8] D1[2/8] H4[2/8]", "D1[1/8] H4[1/8]", "MN1[2/8] W1SUP D1SUP H4SUP", "D1[-1/8] H4[-1/8]", "W1[-1/8] D1[-2/8] H4[-2/8]"],
            "range": ["#c71585", "#ff00ff", "#1e90ff", "#ff8c00", "#ff4500", "#556b2f", "#1e90ff", "#556b2f", "#ff4500", "#ff8c00", "#1e90ff", "#ff00ff", "#c71585"]
          }
        },
        "strokeWidth": {"condition": {"test": "indexof(datum.label, 'MN1') == 0", "value": 2}, "value": 1}
      }
    },
    {
      "data": {"values": [{"p": 0.65116}]},
      "mark": {"type": "rule", "color": "#c0c0c0", "strokeWidth": 1},
      "encoding": {"y": {"field": "p", "type": "quantitative", "title": null}}
    },
    {
      "data": {"name": "levels"},
      "mark": {"type": "text", "align": "center", "baseline": "alphabetic", "dy": 19, "font": "Liberation Sans", "fontSize": 21},
      "encoding": {
        "x": {"datum": 378.625, "title": null},
        "y": {"field": "p", "type": "quantitative", "title": null},
        "text": {"field": "label"},
        "color": {"field": "label", "type": "nominal", "legend": null}
      }
    },
    {
      "data": {"name": "bars"},
      "mark": {"type": "rule", "color": "black", "strokeWidth": 1},
      "encoding": {
        "x": {"field": "i", "type": "quantitative", "title": null},
        "y": {"field": "l", "type": "quantitative", "title": null},
        "y2": {"field": "h"}
      }
    },
    {
      "data": {"name": "bars"},
      "mark": {"type": "bar", "width": 5, "stroke": "black", "strokeWidth": 1},
      "encoding": {
        "x": {"field": "i", "type": "quantitative", "title": null},
        "y": {"field": "o", "type": "quantitative", "title": null},
        "y2": {"field": "c"},
        "fill": {"condition": {"test": "datum.c >= datum.o", "value": "white"}, "value": "black"}
      }
    },
    {
      "data": {"values": [{}]},
      "mark": {"type": "text", "align": "left", "baseline": "alphabetic", "dx": 6, "dy": 21, "font": "DejaVu Sans Condensed, Liberation Sans Narrow, DejaVu Sans", "fontSize": 18, "color": "black"},
      "encoding": {
        "x": {"datum": -0.75, "title": null},
        "y": {"datum": 0.700385, "title": null},
        "text": {"value": "▼ AUDUSD,H4\u00a0\u00a00.65122 0.65169 0.65082 0.65116"}
      }
    },
    {
      "data": {"name": "levels"},
      "mark": {"type": "point", "shape": "M-3.6,-0.55H3.6V1.45H-3.6Z", "size": 484, "filled": true, "opacity": 1, "strokeWidth": 0},
      "encoding": {
        "x": {"datum": 472.44, "title": null},
        "y": {"field": "p", "type": "quantitative", "title": null},
        "color": {"field": "label", "type": "nominal", "legend": null}
      }
    },
    {
      "data": {"values": [{"p": 0.65116}]},
      "mark": {"type": "point", "shape": "M-3.6,-0.55H3.6V1.45H-3.6Z", "size": 484, "filled": true, "opacity": 1, "strokeWidth": 0, "color": "black"},
      "encoding": {
        "x": {"datum": 472.44, "title": null},
        "y": {"field": "p", "type": "quantitative", "title": null}
      }
    },
    {
      "data": {"name": "levels"},
      "mark": {"type": "text", "align": "center", "baseline": "middle", "dy": 5, "font": "DejaVu Sans Condensed, Liberation Sans Narrow, DejaVu Sans", "fontSize": 18, "color": "white"},
      "encoding": {
        "x": {"datum": 472.44, "title": null},
        "y": {"field": "p", "type": "quantitative", "title": null},
        "text": {"field": "p", "type": "quantitative", "format": ".5f"}
      }
    },
    {
      "data": {"values": [{"p": 0.65116}]},
      "mark": {"type": "text", "align": "center", "baseline": "middle", "dy": 5, "font": "DejaVu Sans Condensed, Liberation Sans Narrow, DejaVu Sans", "fontSize": 18, "color": "white"},
      "encoding": {
        "x": {"datum": 472.44, "title": null},
        "y": {"field": "p", "type": "quantitative", "title": null},
        "text": {"field": "p", "type": "quantitative", "format": ".5f"}
      }
    }
  ]
}
